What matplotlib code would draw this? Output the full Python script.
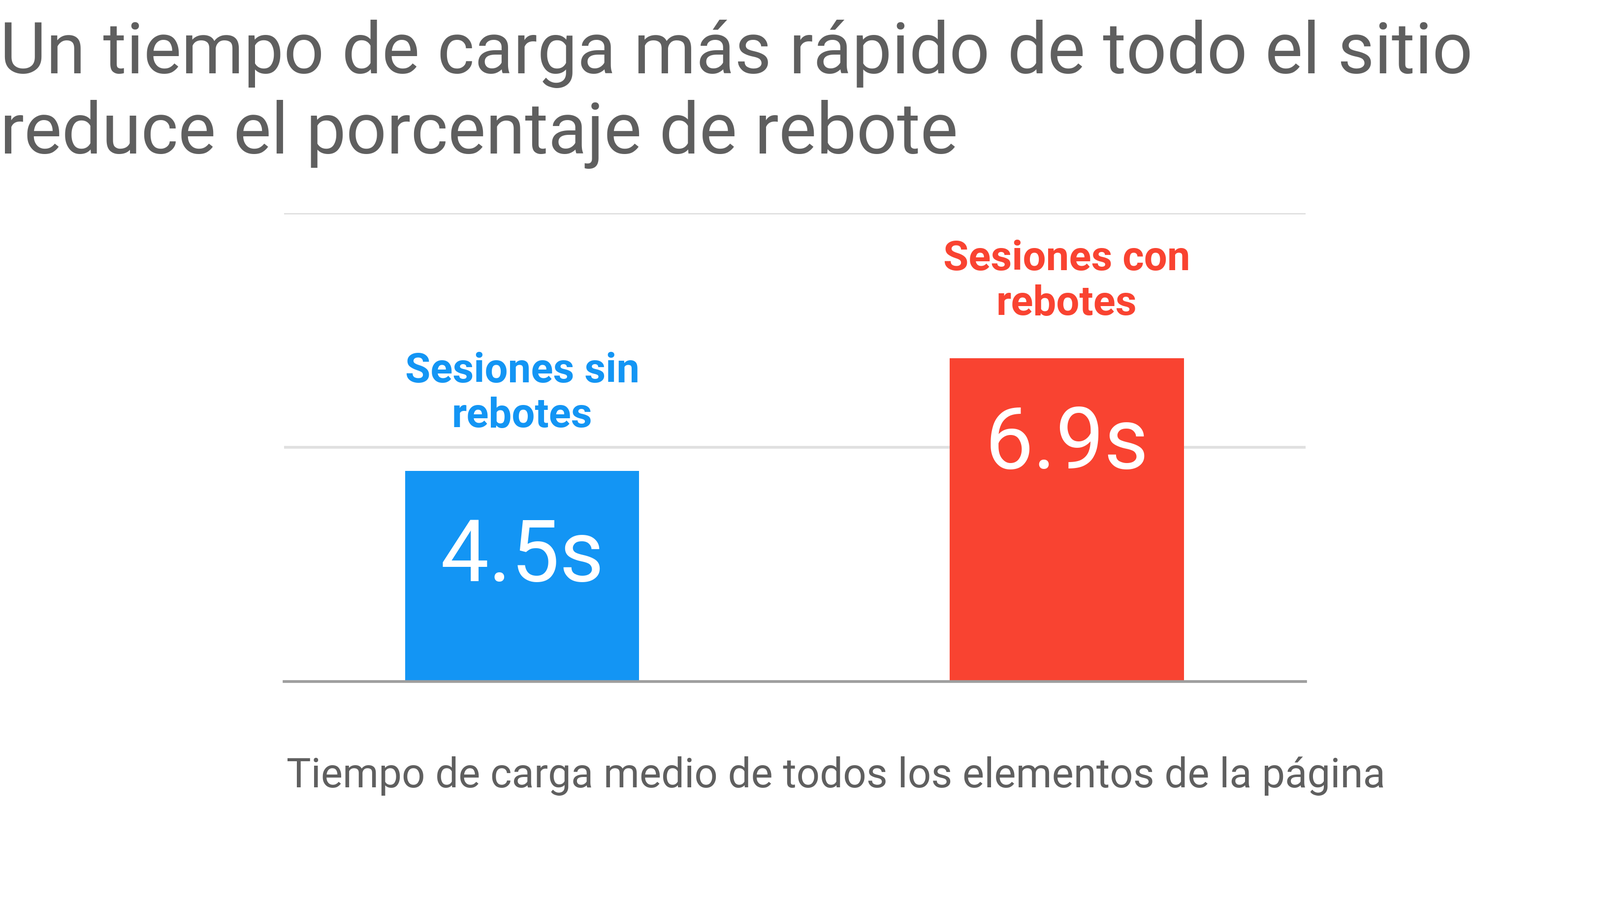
import matplotlib.pyplot as plt

categories = ['Sesiones sin\nrebotes', 'Sesiones con\nrebotes']
values = [4.5, 6.9]
value_labels = ['4.5s', '6.9s']
colors = ['#1395f4', '#f94331']

fig = plt.figure(figsize=(32.5, 18.29), dpi=100)
ax = fig.add_axes([0.1776, 0.243, 0.6385, 0.52])

x = list(range(len(values)))
ax.bar(x, values, width=0.43, color=colors, zorder=2)
ax.set_xlim(-0.437, 1.439)
ax.set_ylim(0, 10)
ax.set_yticks([5, 10])
ax.yaxis.grid(True, color='#e0e0e0', linewidth=4, zorder=1)
ax.tick_params(left=False, bottom=False, labelleft=False, labelbottom=False)
for s in ['top', 'left', 'right']:
    ax.spines[s].set_visible(False)
ax.spines['bottom'].set_color('#9e9e9e')
ax.spines['bottom'].set_linewidth(4)

for xi, v, lab, cat, c in zip(x, values, value_labels, categories, colors):
    ax.text(xi, v - 1.85, lab, ha='center', va='center', color='white',
            fontsize=126, family='Roboto', zorder=3)
    ax.text(xi, v + 0.75, cat, ha='center', va='bottom', color=c,
            fontsize=60, family='Roboto', fontweight='bold', linespacing=1.2)

fig.text(0.0, 0.978, 'Un tiempo de carga más rápido de todo el sitio\nreduce el porcentaje de rebote',
         ha='left', va='top', color='#5f5f5f', fontsize=104, family='Roboto',
         linespacing=1.22)
fig.text(0.179, 0.138, 'Tiempo de carga medio de todos los elementos de la página',
         ha='left', va='center', color='#5f5f5f', fontsize=60, family='Roboto')

fig.savefig('out.png', dpi=100, facecolor='white')
